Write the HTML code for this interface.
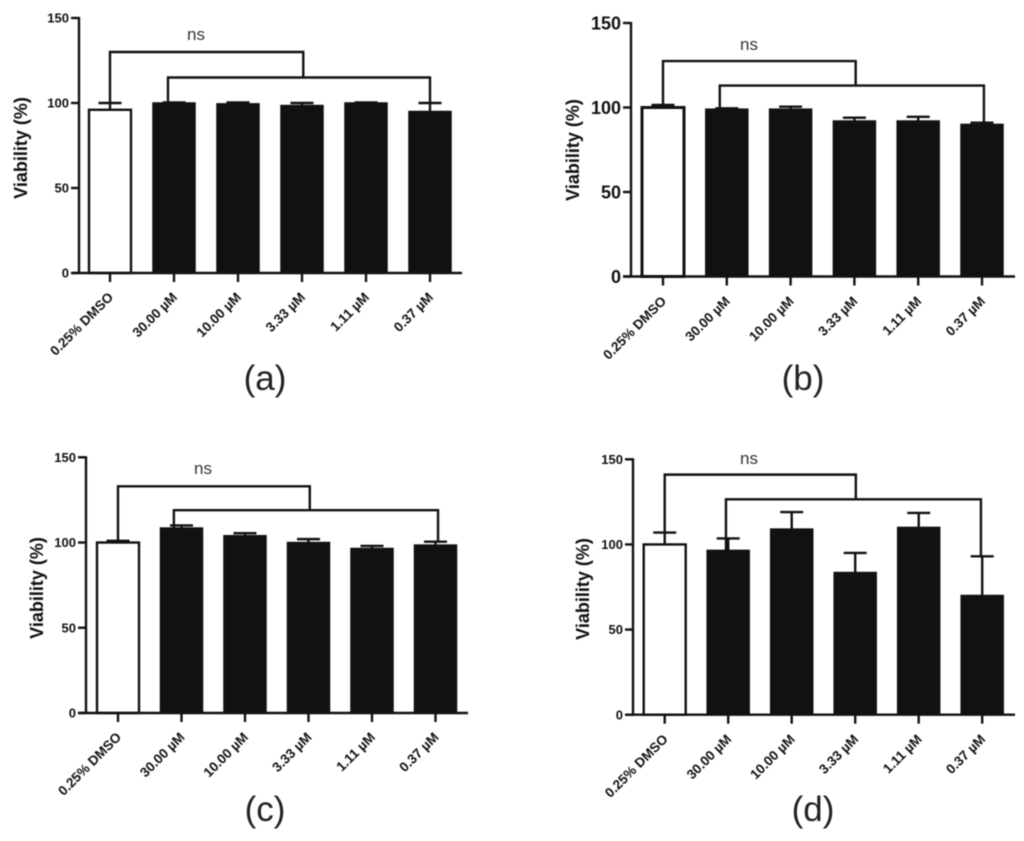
<!DOCTYPE html>
<html lang="en">
<head>
<meta charset="utf-8">
<title>Viability bar charts</title>
<style>
html,body{margin:0;padding:0;background:#fff;width:1024px;height:841px;overflow:hidden}
svg{display:block;filter:blur(0.4px)}
text{font-family:"Liberation Sans",sans-serif}
</style>
</head>
<body>
<svg id="figure" width="1024" height="841" viewBox="0 0 1024 841" xmlns="http://www.w3.org/2000/svg"></svg>
<script>
const categories = ['0.25% DMSO', '30.00 µM', '10.00 µM', '3.33 µM', '1.11 µM', '0.37 µM'];
const yTickLabels = [0, 50, 100, 150];
const yMax = 150;

const viabilityA = [96, 100, 99.5, 98.5, 100, 95];
const errorA = [4, 0.3, 0.8, 1.5, 0.3, 5];
const bracketA = [130, 115];

const viabilityB = [100, 99, 99, 92, 92, 90];
const errorB = [1.5, 0.5, 1.5, 2, 2.5, 1];
const bracketB = [127.5, 113];

const viabilityC = [100, 108.5, 104, 100, 96.5, 98.5];
const errorC = [1, 1.5, 1.5, 2, 1.5, 2];
const bracketC = [133, 119];

const viabilityD = [100, 96.5, 109, 83.5, 110, 70];
const errorD = [7, 7, 10, 11.5, 8.5, 23];
const bracketD = [141, 126.5];

const panels = [
  {id:'a', values:viabilityA, errors:errorA, brackets:bracketA, x0:110, step:64, y0:273, yTop:18, axisX:79, xStart:72, xEnd:462, tickFont:13, capHalf:11.5, strokeW:2,
   title:[21,148], letter:[265,390], ns:[196,40], connector:3.02, lowerLeft:0.906, lowerRight:5, labelDx:4, labelY:298},
  {id:'b', values:viabilityB, errors:errorB, brackets:bracketB, x0:663, step:63.8, y0:276.5, yTop:23, axisX:631, xStart:623, xEnd:1015, tickFont:18, capHalf:11.5, strokeW:2.6,
   title:[573,150], letter:[803,390], ns:[749,50], connector:3.02, lowerLeft:0.89, lowerRight:5.03, labelDx:4, labelY:302},
  {id:'c', values:viabilityC, errors:errorC, brackets:bracketC, x0:118, step:63.5, y0:713, yTop:457.3, axisX:86, xStart:78, xEnd:468, tickFont:13, capHalf:11.5, strokeW:2,
   title:[37,588], letter:[265,821], ns:[203,474], connector:3.02, lowerLeft:0.88, lowerRight:5.04, labelDx:4, labelY:738},
  {id:'d', values:viabilityD, errors:errorD, brackets:bracketD, x0:664.7, step:63.5, y0:714.7, yTop:459.3, axisX:633, xStart:625, xEnd:1015, tickFont:13, capHalf:11.5, strokeW:2,
   title:[583,589], letter:[813,821], ns:[749,464], connector:3.01, lowerLeft:0.965, lowerRight:4.98, labelDx:4, labelY:740}
];

const NS = 'http://www.w3.org/2000/svg';
const INK = '#111';
const figure = document.getElementById('figure');

function make(tag, parent, attrs) {
  const el = document.createElementNS(NS, tag);
  for (const k in attrs) el.setAttribute(k, attrs[k]);
  parent.appendChild(el);
  return el;
}

panels.forEach(function (p) {
  const xScale = function (i) { return p.x0 + p.step * i; };
  const yScale = function (v) { return p.y0 - (v / yMax) * (p.y0 - p.yTop); };
  const sw = 2.4;

  const g = make('g', figure, {});
  
  

  // bars
  p.values.forEach(function (v, i) {
    const control = i === 0;
    const half = 21;
    const bar = make('rect', g, {
      x: xScale(i) - half, y: yScale(v), width: half * 2, height: p.y0 - yScale(v),
      fill: control ? '#fff' : INK, stroke: INK, 'stroke-width': control ? p.strokeW + 0.4 : 1.5
    });
    
    

    const top = yScale(v + p.errors[i]);
    const stem = make('line', g, {x1: xScale(i), x2: xScale(i), y1: yScale(v), y2: top, stroke: INK, 'stroke-width': sw});
    
    
    const cap = make('line', g, {x1: xScale(i) - p.capHalf, x2: xScale(i) + p.capHalf, y1: top, y2: top, stroke: INK, 'stroke-width': sw});
    
    

    const tick = make('line', g, {x1: xScale(i), x2: xScale(i), y1: p.y0, y2: p.y0 + 9, stroke: INK, 'stroke-width': sw});
    
    

    const lx = xScale(i) + p.labelDx;
    const label = make('text', g, {
      x: lx, y: p.labelY, 'text-anchor': 'end', 'font-size': 13.5, 'font-weight': 'bold', fill: '#111',
      transform: 'rotate(-45 ' + lx + ' ' + p.labelY + ')'
    });
    label.textContent = categories[i];
    
    
  });

  // axes
  const yAxis = make('line', g, {x1: p.axisX, x2: p.axisX, y1: p.yTop - 1, y2: p.y0 + 1, stroke: INK, 'stroke-width': sw});
  
  
  const xAxis = make('line', g, {x1: p.xStart, x2: p.xEnd, y1: p.y0, y2: p.y0, stroke: INK, 'stroke-width': sw});
  
  

  yTickLabels.forEach(function (t) {
    const tick = make('line', g, {x1: p.axisX - 8, x2: p.axisX, y1: yScale(t), y2: yScale(t), stroke: INK, 'stroke-width': sw});
    
    
    const label = make('text', g, {
      x: p.axisX - 10, y: yScale(t) + p.tickFont * 0.36, 'text-anchor': 'end',
      'font-size': p.tickFont, 'font-weight': 'bold', fill: '#111'
    });
    label.textContent = t;
    
    
  });

  const title = make('text', g, {
    x: 0, y: 0, 'text-anchor': 'middle', 'font-size': 18, 'font-weight': 'bold', fill: '#111',
    transform: 'translate(' + (p.title[0] + 6) + ' ' + p.title[1] + ') rotate(-90)'
  });
  title.textContent = 'Viability (%)';
  
  

  // significance brackets
  const by0 = yScale(p.brackets[0]);
  const by1 = yScale(p.brackets[1]);
  const upper = make('path', g, {
    d: 'M' + xScale(0) + ' ' + yScale(p.values[0] + p.errors[0]) + 'V' + by0 + 'H' + xScale(p.connector) + 'V' + by1,
    fill: 'none', stroke: INK, 'stroke-width': sw
  });
  
  
  const lower = make('path', g, {
    d: 'M' + xScale(p.lowerLeft) + ' ' + yScale(p.values[1]) + 'V' + by1 + 'H' + xScale(p.lowerRight) + 'V' + yScale(p.values[5] + p.errors[5]),
    fill: 'none', stroke: INK, 'stroke-width': sw
  });
  
  

  const ns = make('text', g, {x: p.ns[0], y: p.ns[1], 'text-anchor': 'middle', 'font-size': 17, fill: '#333'});
  ns.textContent = 'ns';
  
  

  const letter = make('text', g, {x: p.letter[0], y: p.letter[1], 'text-anchor': 'middle', 'font-size': 35, fill: '#222'});
  letter.textContent = '(' + p.id + ')';
  
  
});
</script>
</body>
</html>
